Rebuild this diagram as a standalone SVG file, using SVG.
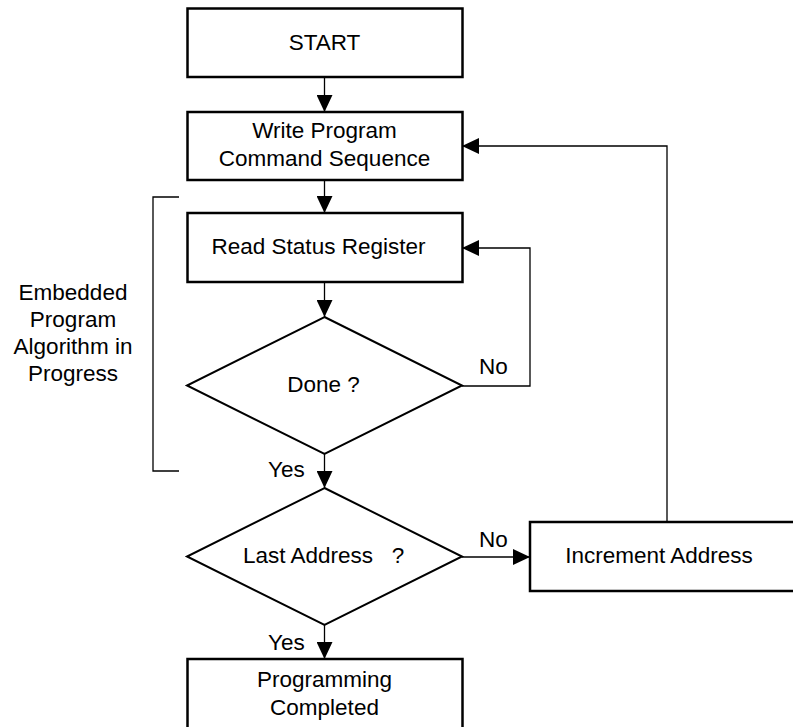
<svg xmlns="http://www.w3.org/2000/svg" width="793" height="727" viewBox="0 0 793 727">
<defs>
<marker id="arr" viewBox="0 0 17 16" markerWidth="17" markerHeight="16" refX="17" refY="8" orient="auto" markerUnits="userSpaceOnUse">
<path d="M0,0 L17,8 L0,16 z" fill="#000"/>
</marker>
<style>
.box{fill:#fff;stroke:#000;stroke-width:2.5}
.dia{fill:#fff;stroke:#000;stroke-width:2}
.con{fill:none;stroke:#000;stroke-width:1.3}
.lbl{font-family:"Liberation Sans",Arial,sans-serif;font-size:22.5px;fill:#000}
.c{text-anchor:middle}
</style>
</defs>
<rect width="793" height="727" fill="#fff"/>
<g id="connectors">
<line class="con" x1="324.5" y1="77" x2="324.5" y2="112" marker-end="url(#arr)"/>
<line class="con" x1="324.5" y1="180" x2="324.5" y2="213" marker-end="url(#arr)"/>
<line class="con" x1="324.5" y1="282" x2="324.5" y2="317" marker-end="url(#arr)"/>
<line class="con" x1="324.5" y1="454" x2="324.5" y2="488" marker-end="url(#arr)"/>
<line class="con" x1="324.5" y1="625" x2="324.5" y2="659" marker-end="url(#arr)"/>
<polyline class="con" points="462,386 530,386 530,248 462,248" marker-end="url(#arr)"/>
<line class="con" x1="462" y1="557" x2="530" y2="557" marker-end="url(#arr)"/>
<polyline class="con" points="667,522 667,146 462,146" marker-end="url(#arr)"/>
<polyline class="con" points="179,197 153,197 153,471 179,471"/>
<text class="lbl" x="479" y="374">No</text>
<text class="lbl" x="268" y="477">Yes</text>
<text class="lbl" x="479" y="547">No</text>
<text class="lbl" x="268" y="650">Yes</text>
</g>
<g id="start">
<rect class="box" x="187.5" y="8.5" width="275" height="68.5"/>
<text class="lbl c" x="324.5" y="50">START</text>
</g>
<g id="write">
<rect class="box" x="187.5" y="112" width="275" height="68"/>
<text class="lbl c" x="324.5" y="138">Write Program</text>
<text class="lbl c" x="324.5" y="166">Command Sequence</text>
</g>
<g id="read">
<rect class="box" x="187.5" y="213" width="275" height="69"/>
<text class="lbl c" x="318.5" y="254">Read Status Register</text>
</g>
<g id="done">
<polygon class="dia" points="324.5,317 462,385.5 324.5,454 187,385.5"/>
<text class="lbl c" x="323.5" y="392">Done ?</text>
</g>
<g id="last">
<polygon class="dia" points="324.5,488 462,556.5 324.5,625 187,556.5"/>
<text class="lbl" x="243" y="563" xml:space="preserve">Last Address   ?</text>
</g>
<g id="increment">
<rect class="box" x="530" y="522" width="276" height="69"/>
<text class="lbl c" x="659" y="563">Increment Address</text>
</g>
<g id="completed">
<rect class="box" x="187.5" y="659" width="275" height="80"/>
<text class="lbl c" x="324.5" y="687">Programming</text>
<text class="lbl c" x="324.5" y="715">Completed</text>
</g>
<g id="embedded">
<text class="lbl c" x="73" y="300">Embedded</text>
<text class="lbl c" x="73" y="327">Program</text>
<text class="lbl c" x="73" y="354">Algorithm in</text>
<text class="lbl c" x="73" y="381">Progress</text>
</g>
</svg>
